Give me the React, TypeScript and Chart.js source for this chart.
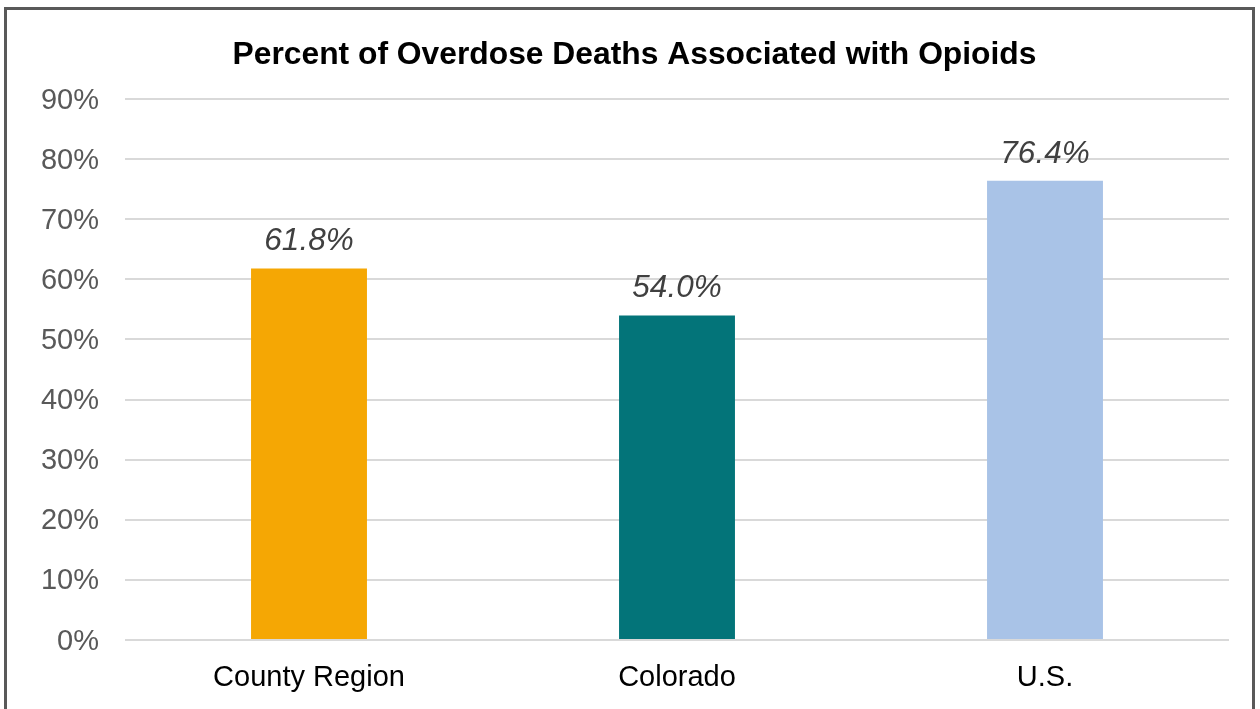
import React, { useEffect, useRef } from "react";
import { Chart, registerables } from "chart.js";

Chart.register(...registerables);

const categories = ["County Region", "Colorado", "U.S."];
const values = [61.8, 54.0, 76.4];
const valueLabels = ["61.8%", "54.0%", "76.4%"];
const barColors = ["#F5A704", "#037479", "#A9C3E7"];
const titleText = "Percent of Overdose Deaths Associated with Opioids";

const FONT = "Arial, 'Liberation Sans', sans-serif";

const labelPlugin = {
  id: "valueLabels",
  afterDatasetsDraw(chart: any) {
    const ctx = chart.ctx;
    const meta = chart.getDatasetMeta(0);
    ctx.save();
    ctx.font = `italic 31.5px ${FONT}`;
    ctx.fillStyle = "#404040";
    ctx.textAlign = "center";
    ctx.textBaseline = "middle";
    meta.data.forEach((bar: any, i: number) => {
      ctx.fillText(valueLabels[i], bar.x, bar.y - 27);
    });
    ctx.restore();
  },
};

export default function App() {
  const ref = useRef<HTMLCanvasElement | null>(null);
  useEffect(() => {
    if (!ref.current) return;
    const chart = new Chart(ref.current, {
      type: "bar",
      data: {
        labels: categories,
        datasets: [
          {
            data: values,
            backgroundColor: barColors,
            borderWidth: 0,
            barPercentage: 0.315,
            categoryPercentage: 1,
          },
        ],
      },
      options: {
        animation: false,
        responsive: false,
        maintainAspectRatio: false,
        layout: { padding: { left: 40, right: 31, top: 0, bottom: 0 } },
        plugins: {
          legend: { display: false },
          tooltip: { enabled: false },
          title: {
            display: true,
            text: titleText,
            color: "#000000",
            font: { family: FONT, size: 31.8, weight: "bold", lineHeight: 1.2 },
            padding: { top: 36, bottom: 24.84 },
          },
        },
        scales: {
          x: {
            grid: { display: false },
            border: { display: false },
            ticks: {
              color: "#000000",
              font: { family: FONT, size: 29 },
              padding: 13,
              maxRotation: 0,
            },
            afterFit(scale: any) {
              scale.height = 69;
            },
          },
          y: {
            min: 0,
            max: 90,
            border: { display: false },
            grid: { color: "#D9D9D9", lineWidth: 2, drawTicks: false },
            ticks: {
              stepSize: 10,
              color: "#595959",
              font: { family: FONT, size: 29 },
              padding: 26,
              labelOffset: 1.5,
              callback: (v: any) => `${v}%`,
            },
            afterFit(scale: any) {
              scale.width = 85;
            },
          },
        },
      },
      plugins: [labelPlugin],
    });
    return () => chart.destroy();
  }, []);

  return (
    <div
      style={{
        position: "fixed",
        left: 0,
        top: 0,
        width: 1260,
        height: 709,
        background: "#ffffff",
        overflow: "hidden",
      }}
    >
      <div
        style={{
          position: "absolute",
          left: 4,
          top: 7,
          width: 1251,
          height: 740,
          boxSizing: "border-box",
          border: "3px solid #595959",
        }}
      />
      <canvas
        ref={ref}
        width={1260}
        height={709}
        style={{ position: "absolute", left: 0, top: 0, width: 1260, height: 709 }}
      />
    </div>
  );
}
